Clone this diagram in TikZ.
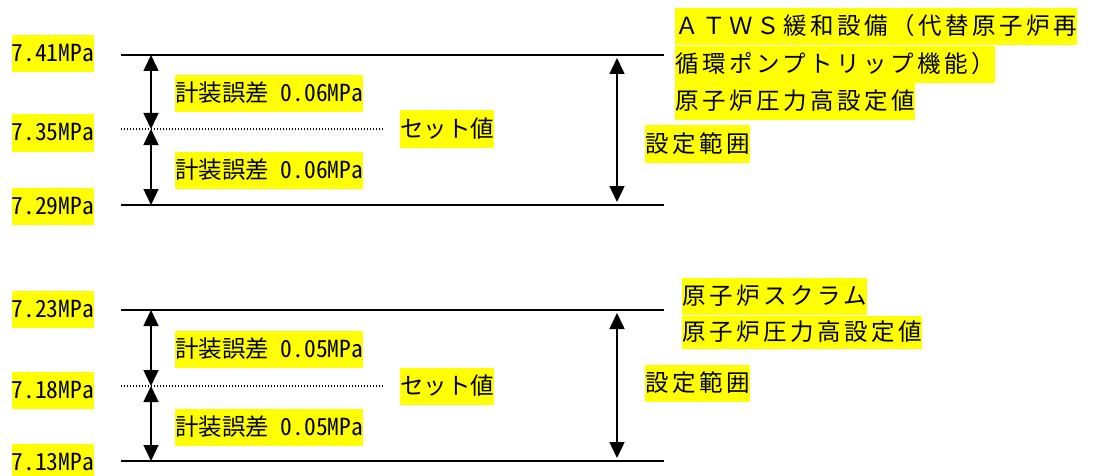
\documentclass[tikz,border=0pt]{standalone}
\usepackage{fontspec}
\setmainfont{Noto Sans CJK JP}
\newfontfamily\hwfont[RawFeature=+hwid]{Noto Sans CJK JP}
\newfontfamily\widefont[LetterSpace=15]{Noto Sans CJK JP}
\usepackage{xcolor}
\usetikzlibrary{arrows.meta,positioning}
\definecolor{hlyellow}{RGB}{255, 255, 0}

\tikzset{
    hl/.style={fill=hlyellow,inner sep=0pt,minimum height=37pt,text height=20pt,text depth=4pt,font=\fontsize{23.5}{36}\selectfont},
    lvl/.style={line width=1.5pt},
    setline/.style={line width=1.2pt,dash pattern=on 1.2pt off 1.8pt},
    dimarrow/.style={line width=1.5pt,{Triangle[length=16pt,width=15pt]}-{Triangle[length=16pt,width=15pt]}}
}

\begin{document}
\begin{tikzpicture}[x=1pt,y=-1pt]
\useasboundingbox (0,0) rectangle (1105,476);

\foreach \i/\ya/\yb/\yc/\va/\vb/\vc/\err/\yr in {
    1/55/129/205/7.41/7.35/7.29/0.06/144,
    2/310/386/461/7.23/7.18/7.13/0.05/383
}{
    % levels
    \coordinate (la\i) at (121,\ya);
    \coordinate (ra\i) at (664,\ya);
    \coordinate (lb\i) at (121,\yb);
    \coordinate (rb\i) at (384,\yb);
    \coordinate (lc\i) at (121,\yc);
    \coordinate (rc\i) at (664,\yc);
    \draw[lvl] (la\i) -- (ra\i);
    \draw[setline] (lb\i) -- (rb\i);
    \draw[lvl] (lc\i) -- (rc\i);
    \node[hl,anchor=east] (va\i) at (94,\ya-1) {\hwfont \va MPa};
    \node[hl,anchor=east] (vb\i) at (94,\yb+4) {\hwfont \vb MPa};
    \node[hl,anchor=east] (vc\i) at (94,\yc+1) {\hwfont \vc MPa};
    % error band
    \coordinate (ea\i) at (151,\ya);
    \coordinate (eb\i) at (151,\yb);
    \coordinate (ec\i) at (151,\yc);
    \draw[dimarrow] (ea\i) -- (eb\i);
    \draw[dimarrow] (eb\i) -- (ec\i);
    \node[hl,anchor=west] (eu\i) at (175,\ya+39) {\hwfont 計装誤差 \err MPa};
    \node[hl,anchor=west] (el\i) at (175,\yb+41) {\hwfont 計装誤差 \err MPa};
    \node[hl,anchor=west] (set\i) at (400,\yb) {セット値};
    % range
    \coordinate (ga\i) at (617,\ya);
    \coordinate (gc\i) at (617,\yc);
    \draw[dimarrow,shorten <=3pt,shorten >=3pt] (ga\i) -- (gc\i);
    \node[hl,anchor=west] (rng\i) at (645,\yr) {\widefont 設定範囲};
}

\node[hl,anchor=north west] (atws) at (675,8) {\widefont ＡＴＷＳ緩和設備（代替原子炉再};
\node[hl,anchor=north west] (pump) at (atws.south west) {\widefont 循環ポンプトリップ機能）};
\node[hl,anchor=north west] (hp1) at (pump.south west) {\widefont 原子炉圧力高設定値};
\node[hl,anchor=north west] (scram) at (682,278) {\widefont 原子炉スクラム};
\node[hl,anchor=north west,minimum height=33pt] (hp2) at (scram.south west) {\widefont 原子炉圧力高設定値};

\end{tikzpicture}
\end{document}
